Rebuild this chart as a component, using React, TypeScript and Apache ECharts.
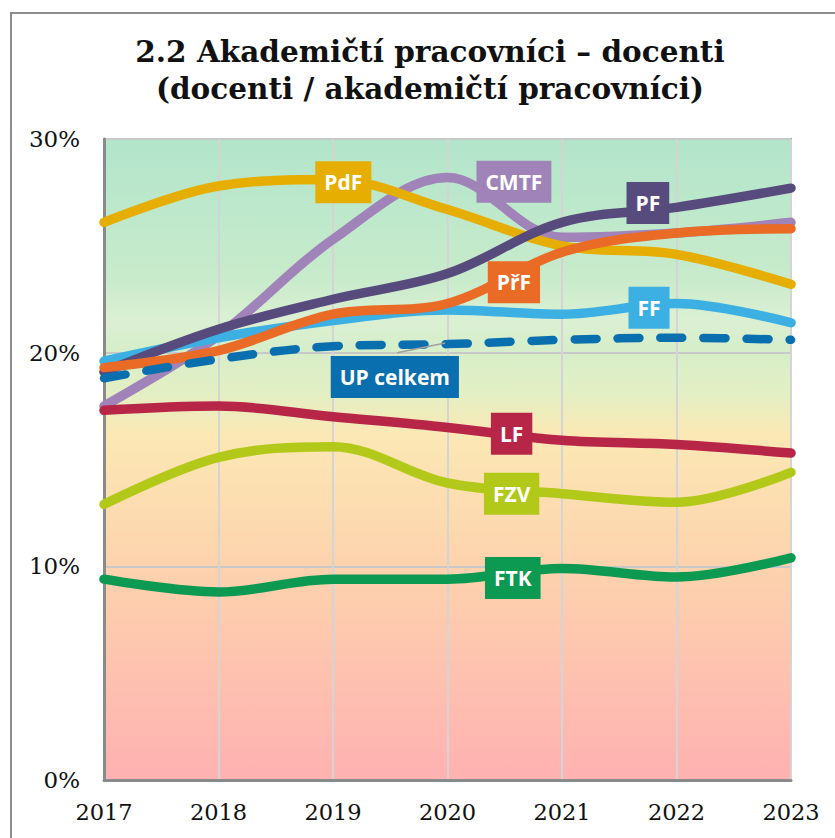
import React, { useEffect, useRef } from "react";
import * as echarts from "echarts";

const years = [2017, 2018, 2019, 2020, 2021, 2022, 2023];
const yTicks = [0, 10, 20, 30];

const PdF = [26.1, 27.8, 28.1, 26.7, 25.0, 24.6, 23.2];
const CMTF = [17.5, 20.8, 25.3, 28.2, 25.4, 25.6, 26.1];
const PF = [19.1, 21.1, 22.5, 23.7, 26.1, 26.8, 27.7];
const PrF = [19.3, 20.1, 21.8, 22.3, 24.7, 25.6, 25.8];
const FF = [19.6, 20.7, 21.5, 22.0, 21.8, 22.3, 21.4];
const UP = [18.8, 19.7, 20.3, 20.4, 20.6, 20.7, 20.6];
const LF = [17.3, 17.5, 17.0, 16.5, 15.9, 15.7, 15.3];
const FZV = [12.9, 15.1, 15.6, 13.9, 13.4, 13.0, 14.4];
const FTK = [9.4, 8.8, 9.4, 9.4, 9.9, 9.5, 10.4];

const seriesNames = ["CMTF", "PdF", "FF", "PF", "PřF", "LF", "FZV", "FTK", "UP celkem"];
const seriesValues = [CMTF, PdF, FF, PF, PrF, LF, FZV, FTK, UP];
const seriesColors = ["#a083b8", "#e6ae00", "#3cb0e3", "#574b7e", "#ea6b25", "#b82647", "#b3c91a", "#0c9a52", "#0a6fae"];

// label anchor positions (layout, in data coordinates)
const labelPos: Record<string, [number, number]> = {
  PdF: [2019.09, 27.98],
  CMTF: [2020.58, 28.0],
  PF: [2021.75, 27.0],
  "PřF": [2020.58, 23.3],
  FF: [2021.76, 22.1],
  "UP celkem": [2019.54, 18.86],
  LF: [2020.56, 16.2],
  FZV: [2020.56, 13.4],
  FTK: [2020.57, 9.45],
};
const leader: [number, number][] = [
  [2019.56, 20.0],
  [2019.98, 20.45],
];

export default function App() {
  const ref = useRef<HTMLDivElement>(null);
  useEffect(() => {
    if (!ref.current) return;
    const chart = echarts.init(ref.current, undefined, { renderer: "svg" });
    const lineSeries = seriesNames.map((name, i) => ({
      name,
      type: "line",
      smooth: 0.35,
      showSymbol: false,
      symbol: "none",
      data: years.map((y, j) => [y, seriesValues[i][j]]),
      lineStyle:
        name === "UP celkem"
          ? { color: seriesColors[i], width: 8.5, type: [22, 21], cap: "round" }
          : { color: seriesColors[i], width: 9.5, cap: "round", join: "round" },
      z: 3 + i,
    }));
    chart.setOption({
      animation: false,
      backgroundColor: "#ffffff",
      title: {
        text: "2.2 Akademičtí pracovníci – docenti\n(docenti / akademičtí pracovníci)",
        left: 430,
        textAlign: "center",
        top: 33,
        padding: 0,
        textStyle: {
          fontFamily: "'DejaVu Serif', serif",
          fontWeight: "bold",
          fontSize: 29.5,
          lineHeight: 37,
          color: "#111",
        },
      },
      graphic: [
        {
          type: "rect",
          shape: { x: 11, y: 13, width: 900, height: 900 },
          style: { fill: "none", stroke: "#8c8c8c", lineWidth: 2 },
          silent: true,
          z: -10,
        },
      ],
      grid: {
        left: 104,
        right: 44,
        top: 139,
        bottom: 58,
        show: true,
        borderColor: "#999",
        borderWidth: 2,
        backgroundColor: new echarts.graphic.LinearGradient(0, 0, 0, 1, [
          { offset: 0, color: "#b2e5cb" },
          { offset: 0.22, color: "#c8ebcb" },
          { offset: 0.28, color: "#dbf0d3" },
          { offset: 0.33, color: "#d6eec9" },
          { offset: 0.4, color: "#e4efc3" },
          { offset: 0.46, color: "#fbe8b4" },
          { offset: 0.66, color: "#fdd3ad" },
          { offset: 1, color: "#feb1b1" },
        ]),
      },
      xAxis: {
        type: "value",
        min: years[0],
        max: years[years.length - 1],
        interval: 1,
        axisLine: { show: true, lineStyle: { color: "#8a8a8a", width: 3 } },
        axisTick: { show: false },
        splitLine: { show: true, lineStyle: { color: "#d4d4d4", width: 2 } },
        axisLabel: {
          formatter: (v: number) => String(v),
          fontFamily: "'DejaVu Serif', serif",
          fontSize: 22.5,
          color: "#111",
          margin: 20,
        },
      },
      yAxis: {
        type: "value",
        min: yTicks[0],
        max: yTicks[yTicks.length - 1],
        interval: 10,
        axisLine: { show: true, lineStyle: { color: "#8a8a8a", width: 3 } },
        axisTick: { show: false },
        splitLine: { show: true, lineStyle: { color: "#c8c8c8", width: 2 } },
        axisLabel: {
          formatter: (v: number) => `${v}%`,
          fontFamily: "'DejaVu Serif', serif",
          fontSize: 23,
          color: "#111",
          margin: 24,
        },
      },
      series: [
        ...lineSeries,
        {
          name: "leader",
          type: "line",
          data: leader,
          symbol: "none",
          lineStyle: { color: "#a0a0a0", width: 1.5 },
          z: 20,
        },
        {
          name: "labels",
          type: "scatter",
          symbolSize: 0,
          itemStyle: { color: "rgba(0,0,0,0)", opacity: 1 },
          z: 30,
          data: seriesNames.map((name, i) => ({
            value: labelPos[name],
            label: {
              show: true,
              position: "inside",
              formatter: name,
              backgroundColor: seriesColors[i],
              color: "#ffffff",
              opacity: 1,
              fontFamily: "'Open Sans', sans-serif",
              fontWeight: "bold",
              fontSize: 21,
              lineHeight: 26,
              padding: [8, 9],
            },
          })),
        },
      ],
    });
    return () => chart.dispose();
  }, []);
  return (
    <div
      ref={ref}
      style={{ position: "fixed", left: 0, top: 0, width: 835, height: 838 }}
    />
  );
}
